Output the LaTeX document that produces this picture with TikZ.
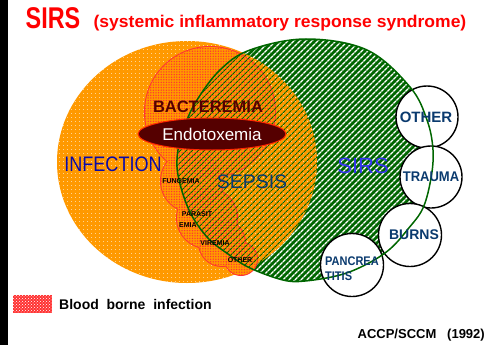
\documentclass[tikz,border=0pt]{standalone}
\usepackage{fontspec}
\setmainfont{Liberation Sans}
\usetikzlibrary{patterns,patterns.meta,shapes.geometric}
\definecolor{orng}{HTML}{FF9900}
\definecolor{grn}{HTML}{006600}
\definecolor{redb}{HTML}{FF3333}
\definecolor{titlered}{HTML}{FF0000}
\definecolor{maroon}{HTML}{550000}
\definecolor{infblue}{HTML}{0A0AA8}
\definecolor{dblue}{HTML}{0A3A6E}
\definecolor{sirsblue}{HTML}{3333EE}
\newcommand{\fs}[1]{\fontsize{#1}{#1}\selectfont}
\newcommand{\greenshape}{plot[smooth cycle, tension=0.6] coordinates {(306,39) (367,50) (410,87) (427,120) (433,150) (431,178) (423,208) (408,229) (390,249) (367,264) (340,275) (305,281) (283,280) (250,268) (228,254) (207,237) (189,210) (178,175) (178,150) (185,125) (197,100) (220,70) (250,50)}}
\begin{document}
\begin{tikzpicture}[x=1pt,y=-1pt,
  lbl/.style={inner sep=0pt, anchor=base},
  smallc/.style={fill=white, draw=black, line width=1.4pt},
  sublbl/.style={lbl, font=\bfseries\fs{14}, text=dblue},
  bloblbl/.style={lbl, font=\bfseries\fs{7}, text=black},
  redpat/.style={pattern={Dots[distance=2.6pt,radius=0.75pt]}, pattern color=redb}]
\useasboundingbox (0,0) rectangle (492,345);
\fill[white] (0,0) rectangle (492,345);
\fill[black] (0,0) rectangle (8,345);

% SIRS region
\fill[grn] \greenshape;
\fill[pattern={Lines[angle=45,distance=4pt,line width=1.4pt]}, pattern color=white] \greenshape;

% infection region
\fill[orng] (187,162) ellipse [x radius=130pt, y radius=121pt];
\fill[pattern={Dots[distance=4pt,radius=0.45pt]}, pattern color=white] (187,162) ellipse [x radius=130pt, y radius=121pt];

% blood borne infection blob
\foreach \cx/\cy/\r in {210/112/65, 192/181/31, 207/218/30, 222/243/23, 241/259/16}
  \draw[redb, line width=2pt] (\cx,\cy) circle [radius=\r pt];
\foreach \cx/\cy/\r in {210/112/65, 192/181/31, 207/218/30, 222/243/23, 241/259/16}
  \fill[orng] (\cx,\cy) circle [radius=\r pt];
\foreach \cx/\cy/\r in {210/112/65, 192/181/31, 207/218/30, 222/243/23, 241/259/16}
  \fill[redpat] (\cx,\cy) circle [radius=\r pt];

% sepsis overlap
\begin{scope}
  \clip \greenshape;
  \fill[pattern={Lines[angle=45,distance=4pt,line width=1.2pt]}, pattern color=grn] (187,162) ellipse [x radius=130pt, y radius=121pt];
\end{scope}

% small cause circles
\node[smallc, circle, minimum size=62pt, inner sep=0pt] (cother) at (427,117) {};
\node[smallc, circle, minimum size=62pt, inner sep=0pt] (ctrauma) at (431,177) {};
\node[smallc, circle, minimum size=63pt, inner sep=0pt] (cburns) at (410,235) {};
\node[smallc, circle, minimum size=63pt, inner sep=0pt] (cpanc) at (352,265) {};

% SIRS outline
\draw[grn, line width=1.5pt] \greenshape;

% endotoxemia
\node[ellipse, fill=maroon, draw=red!70!orange, line width=1pt, minimum width=148pt, minimum height=32pt, inner sep=0pt] (endo) at (212,134) {};
\node[lbl, font=\fs{17}, text=white] (endotxt) at (212,140) {Endotoxemia};

% titles
\node[lbl, font=\bfseries\fs{30}, text=titlered] (title) at (53,29) {\scalebox{0.78}[1]{SIRS}};
\node[lbl, font=\bfseries\fs{17}, text=titlered] (subtitle) at (280,28) {\scalebox{1.03}[1]{(systemic inflammatory response syndrome)}};

% region labels
\node[lbl, font=\bfseries\fs{16.5}, text=maroon] (bact) at (208,112) {BACTEREMIA};
\node[lbl, font=\fs{21}, text=infblue] (inf) at (113,171) {\scalebox{0.86}[1]{INFECTION}};
\node[lbl, font=\fs{19.5}, text=dblue] (sepsis) at (252,188) {SEPSIS};
\node[lbl, font=\fs{22}, text=sirsblue] (sirs) at (363,173) {SIRS};

% blob labels
\node[bloblbl] (fung) at (181,183) {FUNGEMIA};
\node[bloblbl] (para) at (197,216) {PARASIT};
\node[bloblbl, anchor=base west] (emia) at (179,227) {EMIA};
\node[bloblbl] (vir) at (215,245) {VIREMIA};
\node[bloblbl] (oth2) at (240,262) {OTHER};

% cause labels
\node[sublbl, font=\bfseries\fs{15}] (lother) at (426,122) {OTHER};
\node[sublbl] (ltrauma) at (431,181) {\scalebox{0.93}[1]{TRAUMA}};
\node[sublbl] (lburns) at (414,239) {BURNS};
\node[sublbl, font=\bfseries\fs{12.5}, anchor=base west] (lpanc1) at (325,265) {\scalebox{0.88}[1]{PANCREA}};
\node[sublbl, font=\bfseries\fs{12.5}, anchor=base west] (lpanc2) at (325,280) {\scalebox{0.88}[1]{TITIS}};

% legend
\node[draw=redb, fill=redb, line width=1pt, minimum width=38pt, minimum height=17pt, inner sep=0pt] (legbox) at (32.5,303.5) {};
\fill[pattern=crosshatch dots, pattern color=white] (legbox.north west) rectangle (legbox.south east);
\node[lbl, anchor=base west, font=\bfseries\fs{14}] (legtxt) at (59,309) {Blood\ \ borne\ \ infection};

% source
\node[lbl, anchor=base east, font=\bfseries\fs{13}] (src) at (485,338) {ACCP/SCCM\ \ \ (1992)};
\end{tikzpicture}
\end{document}
